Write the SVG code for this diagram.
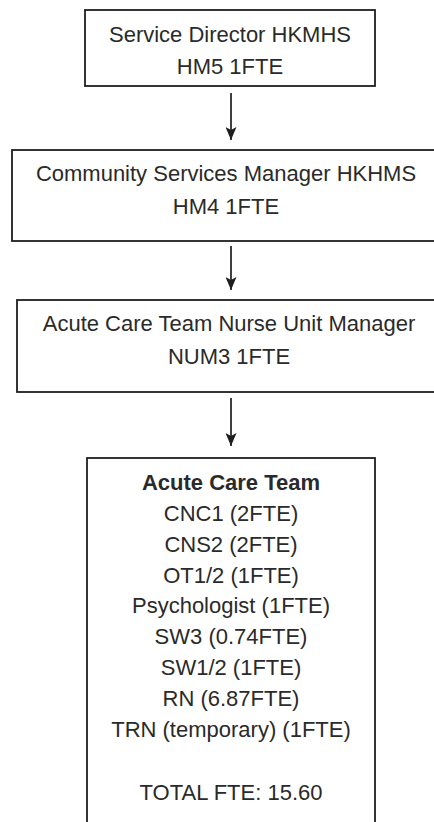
<svg xmlns="http://www.w3.org/2000/svg" width="434" height="822" viewBox="0 0 434 822">
  <style>
    .box { fill: #ffffff; stroke: #1e1e1e; stroke-width: 1.8; }
    .lbl { font-family: "Liberation Sans", Arial, sans-serif; font-size: 22px; fill: #2a2a2a; text-anchor: middle; }
    .bold { font-weight: bold; }
    .wire { stroke: #1e1e1e; stroke-width: 1.7; fill: none; }
  </style>
  <defs>
    <!-- solid triangular head, 13 long x 11 wide -->
    <marker id="arrowhead" viewBox="0 0 13 11" refX="13" refY="5.5" markerWidth="13" markerHeight="11" markerUnits="userSpaceOnUse" orient="auto">
      <path d="M0,0 L13,5.5 L0,11 L3,5.5 z" fill="#1e1e1e"/>
    </marker>
  </defs>
  <rect width="434" height="822" fill="#ffffff"/>

  <g id="connectors">
    <line class="wire" x1="231" y1="93" x2="231" y2="140" marker-end="url(#arrowhead)"/>
    <line class="wire" x1="231" y1="246" x2="231" y2="290" marker-end="url(#arrowhead)"/>
    <line class="wire" x1="231" y1="398" x2="231" y2="446" marker-end="url(#arrowhead)"/>
  </g>

  <g id="service-director">
    <rect class="box" x="85" y="10" width="290" height="76"/>
    <text class="lbl" x="230" y="42">Service Director HKMHS</text>
    <text class="lbl" x="230" y="74">HM5 1FTE</text>
  </g>

  <g id="community-services-manager">
    <rect class="box" x="12" y="150" width="430" height="91"/>
    <text class="lbl" x="226" y="181">Community Services Manager HKHMS</text>
    <text class="lbl" x="226" y="214">HM4 1FTE</text>
  </g>

  <g id="nurse-unit-manager">
    <rect class="box" x="17" y="300" width="424" height="92"/>
    <text class="lbl" x="229" y="331">Acute Care Team Nurse Unit Manager</text>
    <text class="lbl" x="229" y="364">NUM3 1FTE</text>
  </g>

  <g id="acute-care-team">
    <rect class="box" x="87" y="458" width="288" height="380"/>
    <text class="lbl bold" x="231" y="490">Acute Care Team</text>
    <text class="lbl" x="231" y="521">CNC1 (2FTE)</text>
    <text class="lbl" x="231" y="552">CNS2 (2FTE)</text>
    <text class="lbl" x="231" y="583">OT1/2 (1FTE)</text>
    <text class="lbl" x="231" y="613">Psychologist (1FTE)</text>
    <text class="lbl" x="231" y="644">SW3 (0.74FTE)</text>
    <text class="lbl" x="231" y="675">SW1/2 (1FTE)</text>
    <text class="lbl" x="231" y="706">RN (6.87FTE)</text>
    <text class="lbl" x="231" y="737">TRN (temporary) (1FTE)</text>
    <text class="lbl" x="231" y="800">TOTAL FTE: 15.60</text>
  </g>
</svg>
